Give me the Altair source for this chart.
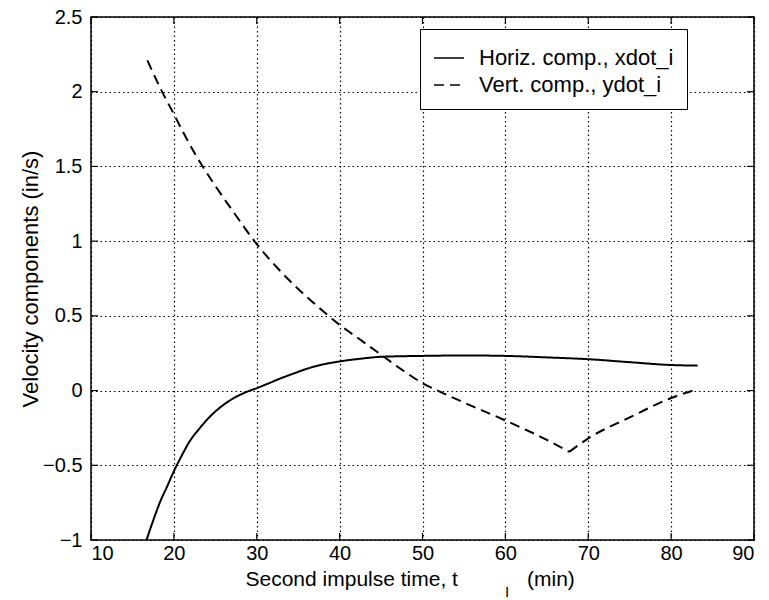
import altair as alt
import pandas as pd

# Horizontal velocity component, xdot_i (in/s) vs second impulse time (min)
t_horiz = [16.7, 17.5, 18.3, 19.2, 20.0, 21.0, 21.9, 23.0, 24.0, 25.0, 26.0, 27.0, 28.0, 29.0,
           30.0, 31.5, 32.8, 34.5, 36.0, 38.0, 40.0, 42.5, 45.0, 50.0, 55.0, 60.0, 65.0,
           70.0, 75.0, 80.0, 83.2]
xdot = [-1.0, -0.87, -0.75, -0.64, -0.54, -0.43, -0.34, -0.26, -0.195, -0.14, -0.095, -0.058,
        -0.028, -0.004, 0.016, 0.05, 0.08, 0.115, 0.145, 0.175, 0.195, 0.213, 0.226, 0.232,
        0.235, 0.232, 0.222, 0.21, 0.19, 0.171, 0.167]

# Vertical velocity component, ydot_i (in/s); the minimum near 67.7 min is a sharp corner
t_vert = [16.8, 18.4, 20.0, 21.3, 22.6, 25.0, 27.0, 30.0, 32.5, 35.0, 36.8, 40.0, 42.5, 45.0,
          47.5, 50.0, 52.2, 55.0, 60.0, 65.0, 67.7, 70.0, 75.0, 80.0, 83.2]
ydot = [2.21, 2.02, 1.85, 1.71, 1.58, 1.37, 1.21, 0.98, 0.82, 0.68, 0.59, 0.44, 0.34, 0.24,
        0.14, 0.05, -0.01, -0.08, -0.2, -0.33, -0.41, -0.32, -0.18, -0.05, 0.01]
v_corner = 67.7

series_names = ["Horiz. comp., xdot_i", "Vert. comp., ydot_i"]
x_ticks = [10, 20, 30, 40, 50, 60, 70, 80, 90]
y_ticks = [-1, -0.5, 0, 0.5, 1, 1.5, 2, 2.5]

W, H = 663, 523
FONT = "Liberation Sans"
TICK = 7

rows = [{"t": t, "v": v, "series": series_names[0], "seg": "h", "order": i}
        for i, (t, v) in enumerate(zip(t_horiz, xdot))]
# split the vertical component at its corner so the smoothing keeps the kink sharp
for i, (t, v) in enumerate(zip(t_vert, ydot)):
    if t <= v_corner:
        rows.append({"t": t, "v": v, "series": series_names[1], "seg": "v1", "order": i})
    if t >= v_corner:
        rows.append({"t": t, "v": v, "series": series_names[1], "seg": "v2", "order": i})
df = pd.DataFrame(rows)

xscale = alt.Scale(domain=[10, 90], nice=False, zero=False)
yscale = alt.Scale(domain=[-1, 2.5], nice=False, zero=False)

lines = alt.Chart(df).mark_line(color="black", strokeWidth=2, clip=True,
                                interpolate="monotone").encode(
    x=alt.X("t:Q", scale=xscale,
            axis=alt.Axis(values=x_ticks,
                          title="Second impulse time, t",
                          labelPadding=3, titlePadding=5, titleFontSize=21,
                          titleX=154, titleAlign="left")),
    y=alt.Y("v:Q", scale=yscale,
            axis=alt.Axis(values=y_ticks, format="~g", title="Velocity components (in/s)",
                          labelPadding=9, titlePadding=0, titleFontSize=22)),
    strokeDash=alt.StrokeDash(
        "series:N",
        scale=alt.Scale(domain=series_names, range=[[1, 0], [10, 6]]),
        legend=alt.Legend(title=None, orient="none", legendX=329, legendY=12,
                          symbolType="stroke", symbolSize=900, symbolStrokeWidth=1.5,
                          symbolStrokeColor="black", labelFontSize=22, labelFont=FONT,
                          labelColor="black", labelLimit=400, fillColor="white",
                          strokeColor="black", padding=13, rowPadding=0, labelOffset=14),
    ),
    detail="seg:N",
    order="order:Q",
)

# Inward tick marks on all four sides of the frame
ydf = pd.DataFrame({"v": y_ticks})
xdf = pd.DataFrame({"t": x_ticks})
left_ticks = alt.Chart(ydf).mark_rule(color="black", strokeWidth=1.2).encode(
    y=alt.Y("v:Q", scale=yscale), x=alt.value(0), x2=alt.value(TICK))
right_ticks = alt.Chart(ydf).mark_rule(color="black", strokeWidth=1.2).encode(
    y=alt.Y("v:Q", scale=yscale), x=alt.value(W - TICK), x2=alt.value(W))
bottom_ticks = alt.Chart(xdf).mark_rule(color="black", strokeWidth=1.2).encode(
    x=alt.X("t:Q", scale=xscale), y=alt.value(H), y2=alt.value(H - TICK))
top_ticks = alt.Chart(xdf).mark_rule(color="black", strokeWidth=1.2).encode(
    x=alt.X("t:Q", scale=xscale), y=alt.value(0), y2=alt.value(TICK))

# Subscript "I" of t and the unit, completing the x-axis title
sub = alt.Chart(pd.DataFrame({"s": ["I"]})).mark_text(
    font=FONT, fontSize=15, color="black", align="center", baseline="middle"
).encode(text="s:N", x=alt.value(416), y=alt.value(575))
unit = alt.Chart(pd.DataFrame({"s": ["(min)"]})).mark_text(
    font=FONT, fontSize=21, color="black", align="left", baseline="top"
).encode(text="s:N", x=alt.value(436), y=alt.value(H + 29))

chart = alt.layer(lines, left_ticks, right_ticks, bottom_ticks, top_ticks, sub, unit).properties(
    width=W, height=H,
    autosize=alt.AutoSizeParams(type="none"),
    padding={"left": 91, "top": 17, "right": 15, "bottom": 60},
    background="white",
).configure_view(
    stroke="black", strokeWidth=1.5
).configure_axis(
    labelFont=FONT, titleFont=FONT, labelFontSize=20,
    labelColor="black", titleColor="black", titleFontWeight="normal",
    domain=False, ticks=False, grid=True, gridColor="black", gridDash=[1.5, 3],
    gridWidth=1.2, gridOpacity=1,
)

chart.save("out.html", embed_options={"renderer": "svg", "actions": False})
